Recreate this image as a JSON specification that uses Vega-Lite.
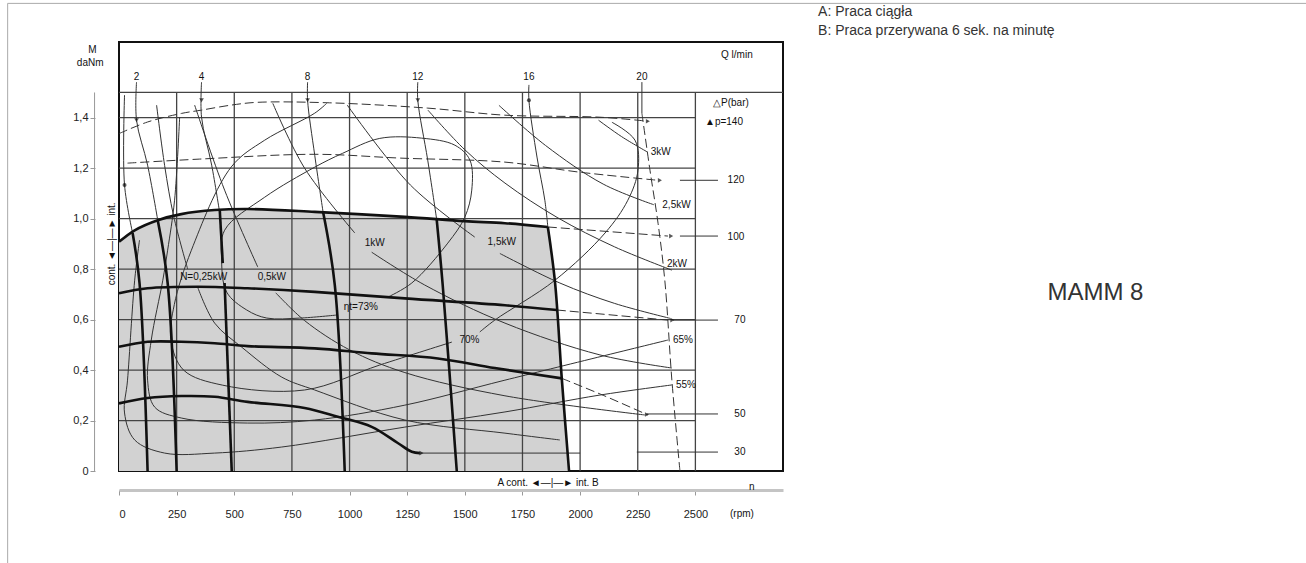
{
  "$schema": "https://vega.github.io/schema/vega-lite/v6.json",
  "width": 664,
  "height": 429,
  "autosize": {"type": "none"},
  "padding": {"left": 119, "top": 42, "right": 523, "bottom": 92},
  "background": "white",
  "config": {
    "view": {"stroke": "#111", "strokeWidth": 2},
    "font": "Liberation Sans",
    "text": {"font": "Liberation Sans"}
  },
  "datasets": {
    "shade": [
      {"n": 0, "M": 0.908}, {"n": 68, "M": 0.954}, {"n": 168, "M": 0.994}, {"n": 270, "M": 1.018},
      {"n": 415, "M": 1.034}, {"n": 558, "M": 1.038}, {"n": 849, "M": 1.027}, {"n": 1240, "M": 1.007},
      {"n": 1500, "M": 0.99}, {"n": 1674, "M": 0.982}, {"n": 1860, "M": 0.967}, {"n": 1891, "M": 0.749},
      {"n": 1921, "M": 0.36}, {"n": 1952, "M": 0}
    ],
    "hgrid": [
      {"M": 0.2, "n0": 0, "n1": 2500}, {"M": 0.4, "n0": 0, "n1": 2500}, {"M": 0.6, "n0": 0, "n1": 2500},
      {"M": 0.8, "n0": 0, "n1": 2500}, {"M": 1.0, "n0": 0, "n1": 2500}, {"M": 1.2, "n0": 0, "n1": 2500},
      {"M": 1.4, "n0": 0, "n1": 2500}, {"M": 1.5, "n0": 0, "n1": 2880}
    ],
    "vgrid": [
      {"n": 250, "M0": 0, "M1": 1.5}, {"n": 500, "M0": 0, "M1": 1.5}, {"n": 750, "M0": 0, "M1": 1.5},
      {"n": 1000, "M0": 0, "M1": 1.5}, {"n": 1250, "M0": 0, "M1": 1.5}, {"n": 1500, "M0": 0, "M1": 1.5},
      {"n": 1750, "M0": 0, "M1": 1.5}, {"n": 2000, "M0": 0, "M1": 1.5}, {"n": 2250, "M0": 0, "M1": 1.5},
      {"n": 2500, "M0": 0, "M1": 1.5}
    ],
    "yaxisline": [{"n": -106, "M0": 0, "M1": 1.5}],
    "thick": [
      {"id": "P100", "n": 0, "M": 0.908}, {"id": "P100", "n": 68, "M": 0.954}, {"id": "P100", "n": 168, "M": 0.994},
      {"id": "P100", "n": 270, "M": 1.018}, {"id": "P100", "n": 415, "M": 1.034}, {"id": "P100", "n": 558, "M": 1.038},
      {"id": "P100", "n": 849, "M": 1.027}, {"id": "P100", "n": 1240, "M": 1.007}, {"id": "P100", "n": 1500, "M": 0.99},
      {"id": "P100", "n": 1674, "M": 0.982}, {"id": "P100", "n": 1860, "M": 0.967},
      {"id": "Q16", "n": 1860, "M": 0.967}, {"id": "Q16", "n": 1891, "M": 0.749}, {"id": "Q16", "n": 1921, "M": 0.36}, {"id": "Q16", "n": 1952, "M": 0},
      {"id": "P70", "n": 0, "M": 0.704}, {"id": "P70", "n": 124, "M": 0.724}, {"id": "P70", "n": 341, "M": 0.73},
      {"id": "P70", "n": 558, "M": 0.724}, {"id": "P70", "n": 849, "M": 0.71}, {"id": "P70", "n": 1240, "M": 0.684},
      {"id": "P70", "n": 1674, "M": 0.657}, {"id": "P70", "n": 1899, "M": 0.638},
      {"id": "P50", "n": 0, "M": 0.492}, {"id": "P50", "n": 124, "M": 0.512}, {"id": "P50", "n": 270, "M": 0.512},
      {"id": "P50", "n": 415, "M": 0.506}, {"id": "P50", "n": 558, "M": 0.495}, {"id": "P50", "n": 849, "M": 0.486},
      {"id": "P50", "n": 1096, "M": 0.466}, {"id": "P50", "n": 1383, "M": 0.446}, {"id": "P50", "n": 1630, "M": 0.408},
      {"id": "P50", "n": 1921, "M": 0.367},
      {"id": "P30", "n": 0, "M": 0.268}, {"id": "P30", "n": 124, "M": 0.289}, {"id": "P30", "n": 270, "M": 0.297},
      {"id": "P30", "n": 415, "M": 0.294}, {"id": "P30", "n": 558, "M": 0.274}, {"id": "P30", "n": 805, "M": 0.25},
      {"id": "P30", "n": 949, "M": 0.215}, {"id": "P30", "n": 1096, "M": 0.175}, {"id": "P30", "n": 1209, "M": 0.111},
      {"id": "P30", "n": 1270, "M": 0.076}, {"id": "P30", "n": 1305, "M": 0.071},
      {"id": "Q1", "n": 59, "M": 0.943}, {"id": "Q1", "n": 89, "M": 0.745}, {"id": "Q1", "n": 124, "M": 0},
      {"id": "Q2", "n": 168, "M": 0.994}, {"id": "Q2", "n": 211, "M": 0.745}, {"id": "Q2", "n": 250, "M": 0},
      {"id": "Q4a", "n": 437, "M": 1.034}, {"id": "Q4a", "n": 450, "M": 0.824},
      {"id": "Q4b", "n": 458, "M": 0.745}, {"id": "Q4b", "n": 489, "M": 0},
      {"id": "Q8", "n": 885, "M": 1.027}, {"id": "Q8", "n": 936, "M": 0.737}, {"id": "Q8", "n": 979, "M": 0},
      {"id": "Q12", "n": 1378, "M": 0.996}, {"id": "Q12", "n": 1404, "M": 0.737}, {"id": "Q12", "n": 1465, "M": 0}
    ],
    "thin": [
      {"id": "Q1t", "n": 24, "M": 1.49}, {"id": "Q1t", "n": 24, "M": 1.133}, {"id": "Q1t", "n": 59, "M": 0.943},
      {"id": "Q2t", "n": 76, "M": 1.541}, {"id": "Q2t", "n": 76, "M": 1.39}, {"id": "Q2t", "n": 124, "M": 1.212}, {"id": "Q2t", "n": 168, "M": 0.994},
      {"id": "Q4t", "n": 358, "M": 1.541}, {"id": "Q4t", "n": 358, "M": 1.402}, {"id": "Q4t", "n": 402, "M": 1.212}, {"id": "Q4t", "n": 437, "M": 1.022},
      {"id": "Q8t", "n": 818, "M": 1.541}, {"id": "Q8t", "n": 818, "M": 1.469}, {"id": "Q8t", "n": 849, "M": 1.251}, {"id": "Q8t", "n": 885, "M": 1.027},
      {"id": "Q12t", "n": 1296, "M": 1.541}, {"id": "Q12t", "n": 1296, "M": 1.469}, {"id": "Q12t", "n": 1339, "M": 1.232}, {"id": "Q12t", "n": 1378, "M": 0.996},
      {"id": "Q16t", "n": 1778, "M": 1.53}, {"id": "Q16t", "n": 1778, "M": 1.469}, {"id": "Q16t", "n": 1813, "M": 1.244}, {"id": "Q16t", "n": 1847, "M": 1.073}, {"id": "Q16t", "n": 1860, "M": 0.967},
      {"id": "Q20t", "n": 2268, "M": 1.541}, {"id": "Q20t", "n": 2268, "M": 1.418},
      {"id": "N025a", "n": 163, "M": 1.45}, {"id": "N025a", "n": 198, "M": 1.21}, {"id": "N025a", "n": 237, "M": 1.01}, {"id": "N025a", "n": 298, "M": 0.8},
      {"id": "N025b", "n": 341, "M": 0.729}, {"id": "N025b", "n": 415, "M": 0.586}, {"id": "N025b", "n": 532, "M": 0.491}, {"id": "N025b", "n": 706, "M": 0.372},
      {"id": "N025b", "n": 849, "M": 0.321}, {"id": "N025b", "n": 1240, "M": 0.202}, {"id": "N025b", "n": 1674, "M": 0.15}, {"id": "N025b", "n": 1912, "M": 0.123},
      {"id": "N05a", "n": 328, "M": 1.45}, {"id": "N05a", "n": 458, "M": 1.113}, {"id": "N05a", "n": 602, "M": 0.808},
      {"id": "N05b", "n": 680, "M": 0.706}, {"id": "N05b", "n": 805, "M": 0.596}, {"id": "N05b", "n": 1000, "M": 0.48}, {"id": "N05b", "n": 1240, "M": 0.39},
      {"id": "N05b", "n": 1674, "M": 0.298}, {"id": "N05b", "n": 2281, "M": 0.222},
      {"id": "N1a", "n": 667, "M": 1.457}, {"id": "N1a", "n": 805, "M": 1.2}, {"id": "N1a", "n": 1023, "M": 0.943},
      {"id": "N1b", "n": 1096, "M": 0.867}, {"id": "N1b", "n": 1326, "M": 0.737}, {"id": "N1b", "n": 1674, "M": 0.586}, {"id": "N1b", "n": 2086, "M": 0.46}, {"id": "N1b", "n": 2398, "M": 0.408},
      {"id": "N15a", "n": 990, "M": 1.45}, {"id": "N15a", "n": 1264, "M": 1.133}, {"id": "N15a", "n": 1543, "M": 0.927},
      {"id": "N15b", "n": 1652, "M": 0.862}, {"id": "N15b", "n": 1912, "M": 0.745}, {"id": "N15b", "n": 2150, "M": 0.664}, {"id": "N15b", "n": 2390, "M": 0.605},
      {"id": "N2", "n": 1340, "M": 1.43}, {"id": "N2", "n": 1500, "M": 1.273}, {"id": "N2", "n": 1674, "M": 1.141}, {"id": "N2", "n": 1900, "M": 1.005}, {"id": "N2", "n": 2150, "M": 0.888}, {"id": "N2", "n": 2398, "M": 0.796},
      {"id": "N25", "n": 1648, "M": 1.449}, {"id": "N25", "n": 1850, "M": 1.29}, {"id": "N25", "n": 2100, "M": 1.137}, {"id": "N25", "n": 2320, "M": 1.055},
      {"id": "N3", "n": 2080, "M": 1.39}, {"id": "N3", "n": 2180, "M": 1.325}, {"id": "N3", "n": 2294, "M": 1.263},
      {"id": "E73", "n": 1166, "M": 0.689}, {"id": "E73", "n": 1270, "M": 0.745}, {"id": "E73", "n": 1426, "M": 0.903}, {"id": "E73", "n": 1500, "M": 1.006},
      {"id": "E73", "n": 1530, "M": 1.113}, {"id": "E73", "n": 1522, "M": 1.232}, {"id": "E73", "n": 1457, "M": 1.291}, {"id": "E73", "n": 1313, "M": 1.319},
      {"id": "E73", "n": 1131, "M": 1.318}, {"id": "E73", "n": 970, "M": 1.259}, {"id": "E73", "n": 849, "M": 1.204}, {"id": "E73", "n": 632, "M": 1.085},
      {"id": "E73", "n": 458, "M": 0.954}, {"id": "E73", "n": 445, "M": 0.836}, {"id": "E73", "n": 467, "M": 0.709}, {"id": "E73", "n": 554, "M": 0.638},
      {"id": "E73", "n": 641, "M": 0.606}, {"id": "E73", "n": 784, "M": 0.606}, {"id": "E73", "n": 944, "M": 0.618},
      {"id": "E70a", "n": 901, "M": 1.457}, {"id": "E70a", "n": 849, "M": 1.418}, {"id": "E70a", "n": 632, "M": 1.311}, {"id": "E70a", "n": 487, "M": 1.205},
      {"id": "E70a", "n": 314, "M": 0.875}, {"id": "E70a", "n": 240, "M": 0.66}, {"id": "E70a", "n": 225, "M": 0.52}, {"id": "E70a", "n": 280, "M": 0.4},
      {"id": "E70a", "n": 450, "M": 0.34}, {"id": "E70a", "n": 805, "M": 0.321}, {"id": "E70a", "n": 1131, "M": 0.42}, {"id": "E70a", "n": 1444, "M": 0.511},
      {"id": "E70b", "n": 1565, "M": 0.551}, {"id": "E70b", "n": 1630, "M": 0.598}, {"id": "E70b", "n": 1891, "M": 0.756}, {"id": "E70b", "n": 2108, "M": 0.943},
      {"id": "E70b", "n": 2207, "M": 1.073}, {"id": "E70b", "n": 2251, "M": 1.192}, {"id": "E70b", "n": 2238, "M": 1.311}, {"id": "E70b", "n": 2138, "M": 1.382},
      {"id": "E65", "n": 263, "M": 1.402}, {"id": "E65", "n": 241, "M": 1.073}, {"id": "E65", "n": 211, "M": 0.875}, {"id": "E65", "n": 190, "M": 0.756},
      {"id": "E65", "n": 140, "M": 0.519}, {"id": "E65", "n": 124, "M": 0.36}, {"id": "E65", "n": 155, "M": 0.253}, {"id": "E65", "n": 270, "M": 0.21},
      {"id": "E65", "n": 558, "M": 0.19}, {"id": "E65", "n": 849, "M": 0.202}, {"id": "E65", "n": 1240, "M": 0.261}, {"id": "E65", "n": 1674, "M": 0.36},
      {"id": "E65", "n": 2381, "M": 0.519},
      {"id": "E55", "n": 89, "M": 0.915}, {"id": "E55", "n": 68, "M": 0.756}, {"id": "E55", "n": 37, "M": 0.36}, {"id": "E55", "n": 24, "M": 0.23},
      {"id": "E55", "n": 68, "M": 0.123}, {"id": "E55", "n": 198, "M": 0.071}, {"id": "E55", "n": 415, "M": 0.071}, {"id": "E55", "n": 706, "M": 0.095},
      {"id": "E55", "n": 1240, "M": 0.174}, {"id": "E55", "n": 1674, "M": 0.234}, {"id": "E55", "n": 2086, "M": 0.301}, {"id": "E55", "n": 2398, "M": 0.341},
      {"id": "T120", "n": 2433, "M": 1.152}, {"id": "T120", "n": 2598, "M": 1.152},
      {"id": "T100", "n": 2433, "M": 0.931}, {"id": "T100", "n": 2598, "M": 0.931},
      {"id": "T70", "n": 2403, "M": 0.598}, {"id": "T70", "n": 2598, "M": 0.598},
      {"id": "T50", "n": 2290, "M": 0.226}, {"id": "T50", "n": 2598, "M": 0.226},
      {"id": "T30a", "n": 1305, "M": 0.071}, {"id": "T30a", "n": 2000, "M": 0.071},
      {"id": "T30b", "n": 2246, "M": 0.075}, {"id": "T30b", "n": 2598, "M": 0.075}
    ],
    "dashed": [
      {"id": "P100d", "n": 1860, "M": 0.967}, {"id": "P100d", "n": 2381, "M": 0.931},
      {"id": "P70d", "n": 1899, "M": 0.638}, {"id": "P70d", "n": 2381, "M": 0.598},
      {"id": "P50d", "n": 1921, "M": 0.367}, {"id": "P50d", "n": 2100, "M": 0.3}, {"id": "P50d", "n": 2294, "M": 0.222},
      {"id": "P120", "n": 37, "M": 1.22}, {"id": "P120", "n": 350, "M": 1.236}, {"id": "P120", "n": 849, "M": 1.255}, {"id": "P120", "n": 1218, "M": 1.24},
      {"id": "P120", "n": 1674, "M": 1.224}, {"id": "P120", "n": 1999, "M": 1.184}, {"id": "P120", "n": 2338, "M": 1.152},
      {"id": "P140", "n": 0, "M": 1.337}, {"id": "P140", "n": 124, "M": 1.383}, {"id": "P140", "n": 271, "M": 1.417}, {"id": "P140", "n": 357, "M": 1.43},
      {"id": "P140", "n": 487, "M": 1.45}, {"id": "P140", "n": 601, "M": 1.461}, {"id": "P140", "n": 914, "M": 1.459}, {"id": "P140", "n": 1339, "M": 1.438},
      {"id": "P140", "n": 1674, "M": 1.41}, {"id": "P140", "n": 2086, "M": 1.402}, {"id": "P140", "n": 2294, "M": 1.386},
      {"id": "Q20d", "n": 2268, "M": 1.418}, {"id": "Q20d", "n": 2303, "M": 1.192}, {"id": "Q20d", "n": 2338, "M": 0.982}, {"id": "Q20d", "n": 2368, "M": 0.749},
      {"id": "Q20d", "n": 2398, "M": 0.36}, {"id": "Q20d", "n": 2433, "M": 0}
    ],
    "arrows": [
      {"kind": "down", "n": 76, "M": 1.39}, {"kind": "down", "n": 358, "M": 1.469}, {"kind": "down", "n": 818, "M": 1.469}, {"kind": "down", "n": 1296, "M": 1.469},
      {"kind": "dot", "n": 24, "M": 1.133}, {"kind": "dot", "n": 1778, "M": 1.469},
      {"kind": "right", "n": 2294, "M": 1.386}, {"kind": "right", "n": 2346, "M": 1.152}, {"kind": "right", "n": 2395, "M": 0.931},
      {"kind": "right", "n": 2400, "M": 0.598}, {"kind": "right", "n": 2290, "M": 0.224}, {"kind": "right", "n": 1312, "M": 0.071}
    ],
    "curvelabels": [
      {"t": "N=0,25kW", "n": 367, "M": 0.768}, {"t": "0,5kW", "n": 663, "M": 0.768}, {"t": "ηt=73%", "n": 1049, "M": 0.648},
      {"t": "1kW", "n": 1109, "M": 0.903}, {"t": "1,5kW", "n": 1660, "M": 0.907}, {"t": "70%", "n": 1520, "M": 0.519},
      {"t": "2kW", "n": 2420, "M": 0.822}, {"t": "2,5kW", "n": 2418, "M": 1.053}, {"t": "3kW", "n": 2350, "M": 1.263},
      {"t": "65%", "n": 2446, "M": 0.519}, {"t": "55%", "n": 2459, "M": 0.341},
      {"t": "△P(bar)", "n": 2654, "M": 1.457}, {"t": "▲p=140", "n": 2624, "M": 1.382}, {"t": "120", "n": 2676, "M": 1.152},
      {"t": "100", "n": 2676, "M": 0.927}, {"t": "70", "n": 2693, "M": 0.598}, {"t": "50", "n": 2693, "M": 0.226}, {"t": "30", "n": 2693, "M": 0.075},
      {"t": "Q  l/min", "n": 2680, "M": 1.648},
      {"t": "2", "n": 76, "M": 1.56}, {"t": "4", "n": 358, "M": 1.56}, {"t": "8", "n": 818, "M": 1.56}, {"t": "12", "n": 1296, "M": 1.56},
      {"t": "16", "n": 1778, "M": 1.56}, {"t": "20", "n": 2268, "M": 1.56},
      {"t": "A cont. ◄—|—► int. B", "n": 1861, "M": -0.048}, {"t": "n", "n": 2745, "M": -0.063}, {"t": "(rpm)", "n": 2702, "M": -0.17},
      {"t": "M", "n": -115, "M": 1.668}, {"t": "daNm", "n": -125, "M": 1.618}
    ],
    "sidelabels": [
      {"t": "cont. ◄—|—► int.", "n": -32, "M": 0.9}
    ],
    "notes": [
      {"t": "A: Praca ciągła", "n": 3032, "M": 1.818}, {"t": "B: Praca przerywana 6 sek. na minutę", "n": 3032, "M": 1.743}
    ],
    "title": [
      {"t": "MAMM 8", "n": 4235, "M": 0.705}
    ],
    "borderv": [{"n": -483, "M0": -0.37, "M1": 1.853}],
    "borderh": [{"M": 1.853, "n0": -483, "n1": 5150}]
  },
  "layer": [
    {
      "data": {"name": "shade"},
      "mark": {"type": "area", "color": "#d2d2d2", "interpolate": "monotone"},
      "encoding": {
        "x": {"field": "n", "type": "quantitative", "scale": {"domain": [0, 2880], "nice": false, "zero": false},
          "axis": {"orient": "bottom", "offset": 19, "values": [0, 250, 500, 750, 1000, 1250, 1500, 1750, 2000, 2250, 2500],
            "format": "d", "domainColor": "#c4c4c4", "domainWidth": 3, "tickColor": "#999", "tickSize": 5,
            "labelFontSize": 11, "labelColor": "#222", "labelPadding": 13, "grid": false, "title": null, "labelFont": "Liberation Sans"}},
        "y": {"field": "M", "type": "quantitative", "scale": {"domain": [0, 1.7], "nice": false, "zero": false},
          "axis": {"orient": "left", "offset": 24, "values": [0, 0.1, 0.2, 0.3, 0.4, 0.5, 0.6, 0.7, 0.8, 0.9, 1.0, 1.1, 1.2, 1.3, 1.4, 1.5],
            "labelExpr": "datum.value == 0 ? '0' : (round(datum.value*10) % 2 == 0 ? replace(format(datum.value, '.1f'), '.', ',') : '')",
            "domain": false, "tickColor": "#999", "tickSize": 5, "labelFontSize": 11, "labelColor": "#222", "labelPadding": 2,
            "grid": false, "labelFont": "Liberation Sans", "title": null}},
        "y2": {"datum": 0}
      }
    },
    {
      "data": {"name": "yaxisline"},
      "mark": {"type": "rule", "color": "#999", "strokeWidth": 1},
      "encoding": {
        "x": {"field": "n", "type": "quantitative", "scale": {"domain": [0, 2880], "nice": false, "zero": false}, "axis": {"title": null}},
        "y": {"field": "M0", "type": "quantitative", "scale": {"domain": [0, 1.7], "nice": false, "zero": false}, "axis": {"title": null}},
        "y2": {"field": "M1"}
      }
    },
    {
      "data": {"name": "hgrid"},
      "mark": {"type": "rule", "color": "#444", "strokeWidth": 1.3},
      "encoding": {
        "y": {"field": "M", "type": "quantitative", "scale": {"domain": [0, 1.7], "nice": false, "zero": false}, "axis": {"title": null}},
        "x": {"field": "n0", "type": "quantitative", "scale": {"domain": [0, 2880], "nice": false, "zero": false}, "axis": {"title": null}},
        "x2": {"field": "n1"}
      }
    },
    {
      "data": {"name": "vgrid"},
      "mark": {"type": "rule", "color": "#444", "strokeWidth": 1.3},
      "encoding": {
        "x": {"field": "n", "type": "quantitative", "scale": {"domain": [0, 2880], "nice": false, "zero": false}, "axis": {"title": null}},
        "y": {"field": "M0", "type": "quantitative", "scale": {"domain": [0, 1.7], "nice": false, "zero": false}, "axis": {"title": null}},
        "y2": {"field": "M1"}
      }
    },
    {
      "data": {"name": "thin"},
      "mark": {"type": "line", "interpolate": "catmull-rom", "strokeWidth": 1, "color": "#333"},
      "encoding": {
        "x": {"field": "n", "type": "quantitative", "scale": {"domain": [0, 2880], "nice": false, "zero": false}, "axis": {"title": null}},
        "y": {"field": "M", "type": "quantitative", "scale": {"domain": [0, 1.7], "nice": false, "zero": false}, "axis": {"title": null}},
        "detail": {"field": "id"},
        "order": {"value": null}
      }
    },
    {
      "data": {"name": "dashed"},
      "mark": {"type": "line", "interpolate": "catmull-rom", "strokeWidth": 1, "color": "#333", "strokeDash": [9, 4]},
      "encoding": {
        "x": {"field": "n", "type": "quantitative", "scale": {"domain": [0, 2880], "nice": false, "zero": false}, "axis": {"title": null}},
        "y": {"field": "M", "type": "quantitative", "scale": {"domain": [0, 1.7], "nice": false, "zero": false}, "axis": {"title": null}},
        "detail": {"field": "id"},
        "order": {"value": null}
      }
    },
    {
      "data": {"name": "thick"},
      "mark": {"type": "line", "interpolate": "catmull-rom", "strokeWidth": 2.6, "color": "#111"},
      "encoding": {
        "x": {"field": "n", "type": "quantitative", "scale": {"domain": [0, 2880], "nice": false, "zero": false}, "axis": {"title": null}},
        "y": {"field": "M", "type": "quantitative", "scale": {"domain": [0, 1.7], "nice": false, "zero": false}, "axis": {"title": null}},
        "detail": {"field": "id"},
        "order": {"value": null}
      }
    },
    {
      "data": {"name": "arrows"},
      "transform": [{"filter": "datum.kind == 'down'"}],
      "mark": {"type": "point", "shape": "triangle-down", "filled": true, "color": "#111", "size": 22},
      "encoding": {
        "x": {"field": "n", "type": "quantitative", "scale": {"domain": [0, 2880], "nice": false, "zero": false}, "axis": {"title": null}},
        "y": {"field": "M", "type": "quantitative", "scale": {"domain": [0, 1.7], "nice": false, "zero": false}, "axis": {"title": null}}
      }
    },
    {
      "data": {"name": "arrows"},
      "transform": [{"filter": "datum.kind == 'right'"}],
      "mark": {"type": "point", "shape": "triangle-right", "filled": true, "color": "#111", "size": 22},
      "encoding": {
        "x": {"field": "n", "type": "quantitative", "scale": {"domain": [0, 2880], "nice": false, "zero": false}, "axis": {"title": null}},
        "y": {"field": "M", "type": "quantitative", "scale": {"domain": [0, 1.7], "nice": false, "zero": false}, "axis": {"title": null}}
      }
    },
    {
      "data": {"name": "arrows"},
      "transform": [{"filter": "datum.kind == 'dot'"}],
      "mark": {"type": "point", "shape": "circle", "filled": true, "color": "#111", "size": 16},
      "encoding": {
        "x": {"field": "n", "type": "quantitative", "scale": {"domain": [0, 2880], "nice": false, "zero": false}, "axis": {"title": null}},
        "y": {"field": "M", "type": "quantitative", "scale": {"domain": [0, 1.7], "nice": false, "zero": false}, "axis": {"title": null}}
      }
    },
    {
      "data": {"name": "curvelabels"},
      "mark": {"type": "text", "fontSize": 10, "color": "#111", "align": "center", "baseline": "middle"},
      "encoding": {
        "x": {"field": "n", "type": "quantitative", "scale": {"domain": [0, 2880], "nice": false, "zero": false}, "axis": {"title": null}},
        "y": {"field": "M", "type": "quantitative", "scale": {"domain": [0, 1.7], "nice": false, "zero": false}, "axis": {"title": null}},
        "text": {"field": "t"}
      }
    },
    {
      "data": {"name": "sidelabels"},
      "mark": {"type": "text", "fontSize": 10, "color": "#111", "align": "center", "baseline": "middle", "angle": 270},
      "encoding": {
        "x": {"field": "n", "type": "quantitative", "scale": {"domain": [0, 2880], "nice": false, "zero": false}, "axis": {"title": null}},
        "y": {"field": "M", "type": "quantitative", "scale": {"domain": [0, 1.7], "nice": false, "zero": false}, "axis": {"title": null}},
        "text": {"field": "t"}
      }
    },
    {
      "data": {"name": "notes"},
      "mark": {"type": "text", "fontSize": 14, "color": "#333", "align": "left", "baseline": "middle"},
      "encoding": {
        "x": {"field": "n", "type": "quantitative", "scale": {"domain": [0, 2880], "nice": false, "zero": false}, "axis": {"title": null}},
        "y": {"field": "M", "type": "quantitative", "scale": {"domain": [0, 1.7], "nice": false, "zero": false}, "axis": {"title": null}},
        "text": {"field": "t"}
      }
    },
    {
      "data": {"name": "title"},
      "mark": {"type": "text", "fontSize": 24, "color": "#333", "align": "center", "baseline": "middle"},
      "encoding": {
        "x": {"field": "n", "type": "quantitative", "scale": {"domain": [0, 2880], "nice": false, "zero": false}, "axis": {"title": null}},
        "y": {"field": "M", "type": "quantitative", "scale": {"domain": [0, 1.7], "nice": false, "zero": false}, "axis": {"title": null}},
        "text": {"field": "t"}
      }
    },
    {
      "data": {"name": "borderv"},
      "mark": {"type": "rule", "color": "#aaa", "strokeWidth": 1},
      "encoding": {
        "x": {"field": "n", "type": "quantitative", "scale": {"domain": [0, 2880], "nice": false, "zero": false}, "axis": {"title": null}},
        "y": {"field": "M0", "type": "quantitative", "scale": {"domain": [0, 1.7], "nice": false, "zero": false}, "axis": {"title": null}},
        "y2": {"field": "M1"}
      }
    },
    {
      "data": {"name": "borderh"},
      "mark": {"type": "rule", "color": "#aaa", "strokeWidth": 1},
      "encoding": {
        "y": {"field": "M", "type": "quantitative", "scale": {"domain": [0, 1.7], "nice": false, "zero": false}, "axis": {"title": null}},
        "x": {"field": "n0", "type": "quantitative", "scale": {"domain": [0, 2880], "nice": false, "zero": false}, "axis": {"title": null}},
        "x2": {"field": "n1"}
      }
    }
  ]
}
